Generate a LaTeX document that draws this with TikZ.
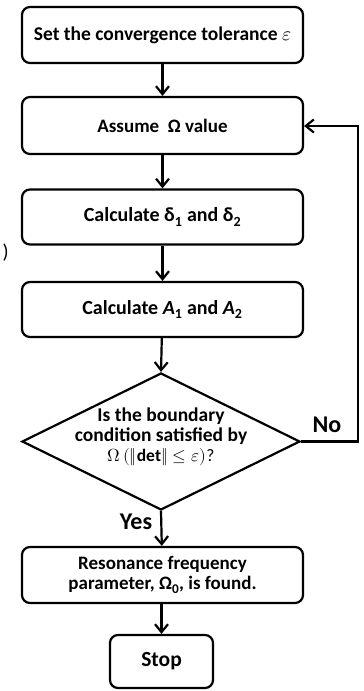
\documentclass[tikz,border=0pt]{standalone}
\usepackage{fontspec}
\setmainfont{Carlito}
\usepackage{unicode-math}
\setmathfont{Latin Modern Math}
\usetikzlibrary{arrows.meta,shapes.geometric}
\newcommand{\fs}[1]{\fontsize{#1}{20}\selectfont}
\begin{document}
\begin{tikzpicture}[x=1pt,y=-1pt,
  every node/.style={font=\bfseries},
  procbox/.style={draw,line width=2.2pt,rounded corners=8pt,minimum width=281pt,align=center,inner sep=0pt},
  decbox/.style={draw,diamond,line width=2.2pt,minimum width=278pt,minimum height=137pt,inner sep=0pt},
  arr/.style={line width=2.2pt,-{Straight Barb[length=8pt,width=13pt,line width=2.2pt]}},
  lbl/.style={font=\bfseries\fs{24}}
]
\useasboundingbox (0,0) rectangle (364,691);
\node[procbox,minimum height=56pt,font=\bfseries\fs{19.5}] (b1) at (162.5,35) {Set the convergence tolerance $\varepsilon$};
\node[procbox,minimum height=57pt,font=\bfseries\fs{19}] (b2) at (162.5,125.5) {Assume \ Ω value};
\node[procbox,minimum height=55pt,font=\bfseries\fs{20}] (b3) at (162.5,217) {Calculate δ\textsubscript{1} and δ\textsubscript{2}};
\node[procbox,minimum height=55pt,font=\bfseries\fs{20}] (b4) at (162.5,309.5) {Calculate \textit{A}\textsubscript{1} and \textit{A}\textsubscript{2}};
\node[decbox] (d) at (161,441.5) {};
\node[align=center,inner sep=0pt,font=\bfseries\fontsize{19.5}{20}\selectfont] (dt) at (161,437) {Is the boundary\\condition satisfied by\\[0pt]{\mdseries\fontsize{17.5}{20}\selectfont$\Omega\,(\|\mathbf{det}\|\le\varepsilon)$?}};
\node[procbox,minimum height=56pt,font=\bfseries\fontsize{19}{20}\selectfont] (b5) at (162.5,575) {Resonance frequency\\parameter, Ω\textsubscript{0}, is found.};
\node[procbox,minimum height=53pt,minimum width=103pt,font=\bfseries\fs{21.5}] (b6) at (161.5,661.5) {Stop};
\coordinate (c1) at (358,441.5);
\coordinate (c2) at (358,126);
\draw[arr] (b1) -- (b2);
\draw[arr] (b2) -- (b3);
\draw[arr] (b3) -- (b4);
\draw[arr] (b4) -- (d.north);
\draw[arr] (d.south) -- (b5);
\draw[arr] (b5.south -| b6.north) -- (b6);
\draw[arr] (d.east) -- (c1) -- (c2) -- (b2.east |- c2);
\node[lbl] (no) at (327,425) {No};
\node[lbl] (yes) at (136,522) {Yes};
\node[font=\rmfamily\fontsize{20}{22}\selectfont,inner sep=0pt,anchor=east] (par) at (9,253) {)};
\end{tikzpicture}
\end{document}
